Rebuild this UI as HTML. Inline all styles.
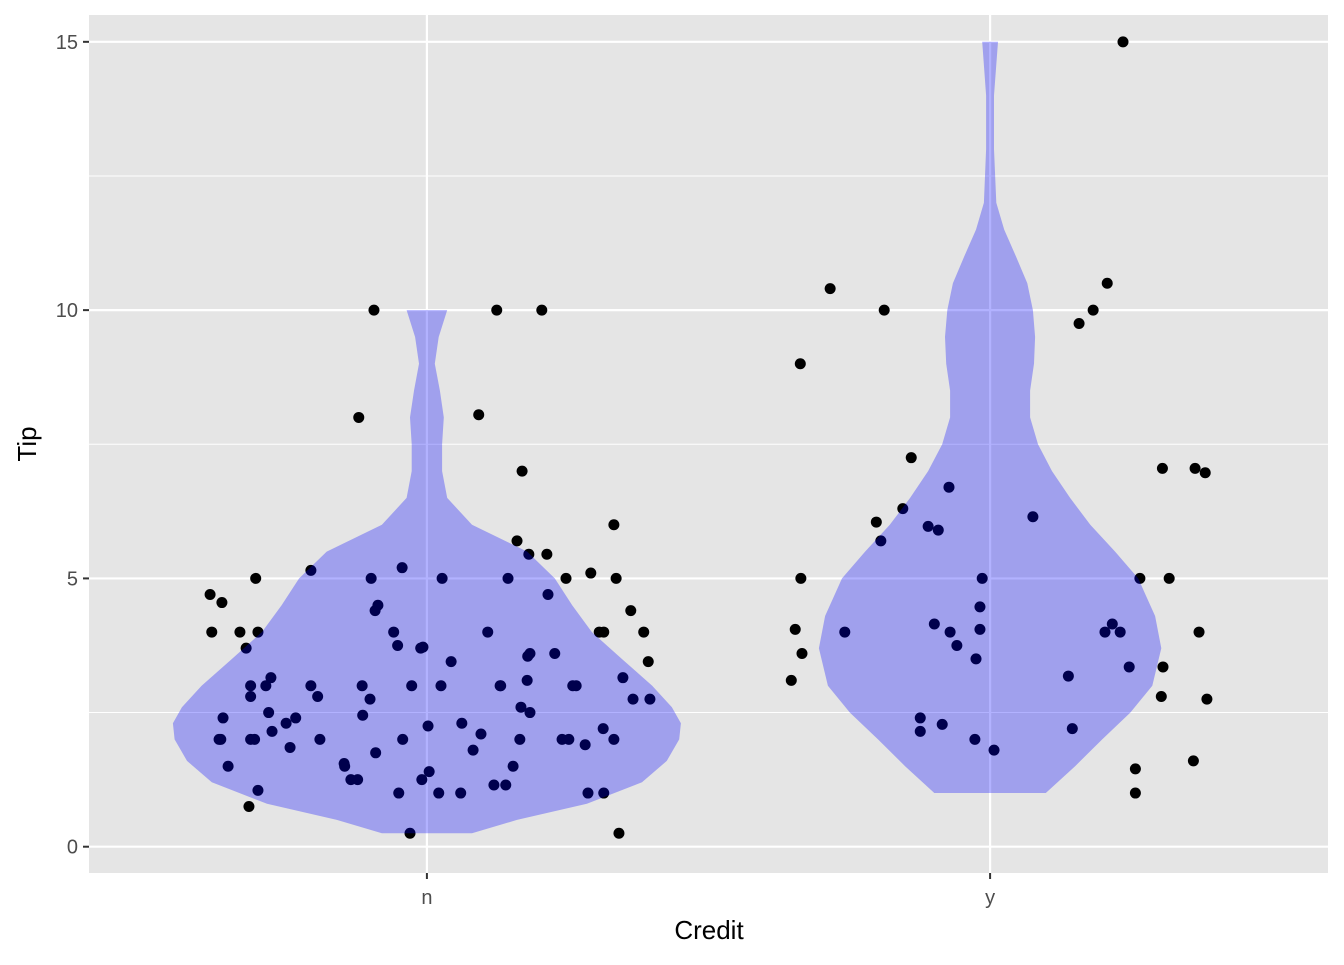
<!DOCTYPE html>
<html><head><meta charset="utf-8"><style>
body{margin:0;background:#fff;}
svg text{font-family:"Liberation Sans",Arial,sans-serif;}
</style></head><body>
<svg id="chart" width="1344" height="960" xmlns="http://www.w3.org/2000/svg">
<rect x="0" y="0" width="1344" height="960" fill="#fff"/>
<rect x="89" y="15" width="1239" height="858" fill="#e5e5e5"/>
<g id="grid"></g><g id="pts"></g><g id="vio"></g><g id="axes"></g>
<text x="709" y="939" font-size="26" text-anchor="middle" fill="#000">Credit</text>
<text x="36" y="444" font-size="26" text-anchor="middle" fill="#000" transform="rotate(-90 36 444)">Tip</text>
</svg>
<script>
const categories=["n","y"];
const yTicks=[0,5,10,15];
const yMinor=[2.5,7.5,12.5];
const violinTipsN=[0.25,0.5,0.8,1.2,1.6,2.0,2.3,2.6,3.0,3.5,4.0,4.5,5.0,5.5,6.0,6.5,7.0,7.5,8.0,8.5,9.0,9.5,10];
const violinWidthN=[0.08,0.16,0.284,0.382,0.426,0.448,0.451,0.435,0.4,0.346,0.293,0.258,0.227,0.178,0.08,0.036,0.027,0.027,0.03,0.023,0.014,0.021,0.036];
const violinTipsY=[1,1.5,2,2.5,3,3.7,4.3,5,5.5,6,6.5,7,7.5,8,8.5,9,9.5,10,10.5,11,11.5,12,13,14,15];
const violinWidthY=[0.099,0.151,0.199,0.249,0.288,0.304,0.293,0.263,0.222,0.178,0.142,0.11,0.085,0.071,0.071,0.078,0.08,0.076,0.066,0.046,0.025,0.011,0.007,0.007,0.014];
const tipsN=[4.7,4.55,4,4,4,5,3.7,3,2.8,3,3.15,2.4,2.5,2,2,2,2,2.15,2.3,2.4,1.85,1.5,1.05,0.75,5.15,3,2.8,2,1.55,1.5,1.25,1.25,3,2.45,2.75,1.75,10,8,5,4.4,4.5,4,3.75,2,1,5.2,3,3.7,3.72,2.25,1.25,1.4,0.25,1,3,5,3.45,1,2.3,1.8,2.1,4,10,8.05,1.15,3,3,1.15,5,1.5,2,2.6,2.5,5.7,7,5.45,5.45,10,3.55,3.6,3.1,4.7,3.6,2,2,5,3,3,1.9,1,5.1,4,4,2.2,1,6,5,2,0.25,3.15,4.4,2.75,4,3.45,2.75];
const jitterN=[-0.385,-0.364,-0.382,-0.332,-0.3,-0.304,-0.321,-0.313,-0.313,-0.286,-0.277,-0.362,-0.281,-0.369,-0.366,-0.313,-0.306,-0.275,-0.25,-0.233,-0.243,-0.353,-0.3,-0.316,-0.206,-0.206,-0.194,-0.19,-0.147,-0.146,-0.135,-0.123,-0.115,-0.114,-0.101,-0.091,-0.094,-0.121,-0.099,-0.092,-0.087,-0.059,-0.052,-0.043,-0.05,-0.044,-0.027,-0.011,-0.007,0.002,-0.009,0.004,-0.03,0.021,0.025,0.027,0.043,0.06,0.062,0.082,0.096,0.108,0.124,0.092,0.119,0.13,0.131,0.14,0.144,0.153,0.165,0.167,0.183,0.16,0.169,0.181,0.213,0.204,0.179,0.183,0.178,0.215,0.227,0.24,0.252,0.247,0.259,0.265,0.281,0.286,0.291,0.306,0.314,0.313,0.314,0.332,0.336,0.332,0.341,0.348,0.362,0.366,0.385,0.393,0.396];
const tipsY=[10.4,10,9,5,4.05,3.6,3.1,4,6.05,5.7,6.3,7.25,5.97,5.9,6.7,4.15,4,3.75,3.5,4.05,4.47,5,2.4,2.15,2.28,2,1.8,6.15,3.18,2.2,9.75,10,10.5,15,4,4.15,4,3.35,5,1.45,1,7.05,3.35,2.8,5,7.05,6.97,4,2.75,1.6];
const jitterY=[-0.284,-0.188,-0.337,-0.336,-0.346,-0.334,-0.353,-0.258,-0.202,-0.194,-0.155,-0.14,-0.11,-0.092,-0.073,-0.099,-0.071,-0.059,-0.025,-0.018,-0.018,-0.014,-0.124,-0.124,-0.085,-0.027,0.007,0.076,0.139,0.146,0.158,0.183,0.208,0.236,0.204,0.217,0.231,0.247,0.266,0.258,0.258,0.306,0.307,0.304,0.318,0.364,0.382,0.371,0.385,0.361];

const NS="http://www.w3.org/2000/svg";
const X0=89,X1=1328,Y0=15,Y1=873;
const xScale=v=>X0+(v-0.4)/2.2*(X1-X0);
const yScale=v=>Y1-(v+0.49)/15.99*(Y1-Y0);
const wScale=w=>w/2.2*(X1-X0);
function mk(t,a,p){const e=document.createElementNS(NS,t);for(const k in a)e.setAttribute(k,a[k]);p.appendChild(e);return e;}
const grid=document.getElementById('grid'),axes=document.getElementById('axes');
yMinor.forEach(v=>{const l=mk('line',{x1:X0,x2:X1,y1:yScale(v),y2:yScale(v),stroke:'#fff','stroke-width':1},grid);

});
yTicks.forEach(v=>{const y=yScale(v);
const l=mk('line',{x1:X0,x2:X1,y1:y,y2:y,stroke:'#fff','stroke-width':2.2},grid);


const t=mk('line',{x1:X0-6,x2:X0,y1:y,y2:y,stroke:'#333','stroke-width':2},axes);


const tx=mk('text',{x:X0-11,y:y+7,'font-size':20,'text-anchor':'end',fill:'#4d4d4d'},axes);tx.textContent=v;

});
categories.forEach((c,i)=>{const x=xScale(i+1);
const l=mk('line',{x1:x,x2:x,y1:Y0,y2:Y1,stroke:'#fff','stroke-width':2.2},grid);


const t=mk('line',{x1:x,x2:x,y1:Y1,y2:Y1+6,stroke:'#333','stroke-width':2},axes);


const tx=mk('text',{x:x,y:904,'font-size':20,'text-anchor':'middle',fill:'#4d4d4d'},axes);tx.textContent=c;

});
const pts=document.getElementById('pts');
[[tipsN,jitterN,1],[tipsY,jitterY,2]].forEach(([t,j,c])=>{t.forEach((v,i)=>{
const p=mk('circle',{cx:xScale(c+j[i]),cy:yScale(v),r:5.5,fill:'#000'},pts);

});});
const vio=document.getElementById('vio');
[[violinTipsN,violinWidthN,1,'violin-n'],[violinTipsY,violinWidthY,2,'violin-y']].forEach(([t,w,c,n])=>{
const cx=xScale(c);let r=[],l=[];
t.forEach((v,i)=>{r.push([cx+wScale(w[i]),yScale(v)]);l.push([cx-wScale(w[i]),yScale(v)]);});
const all=r.concat(l.reverse());
const p=mk('polygon',{points:all.map(q=>q[0].toFixed(1)+','+q[1].toFixed(1)).join(' '),fill:'#0000ff','fill-opacity':0.3,'stroke-linejoin':'round'},vio);

});
</script>
</body></html>
